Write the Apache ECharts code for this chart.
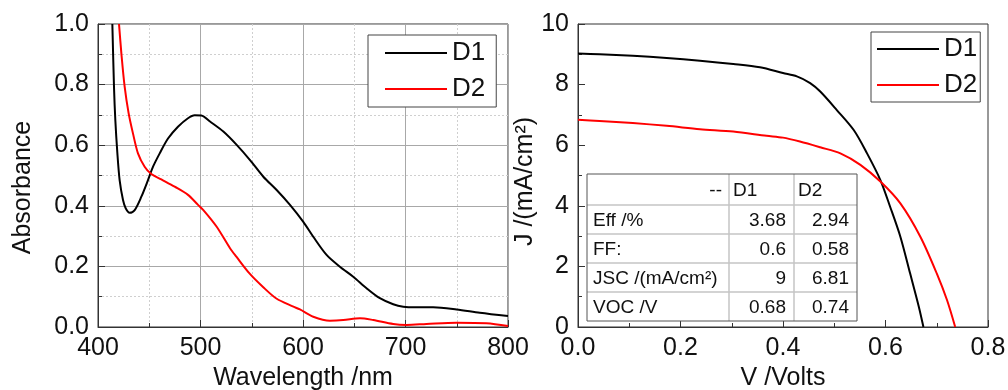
<!DOCTYPE html>
<html><head><meta charset="utf-8">
<script src="https://cdn.jsdelivr.net/npm/echarts@6/dist/echarts.min.js"></script>
<style>html,body{margin:0;padding:0;background:#fff}#c{width:1008px;height:390px}</style>
</head><body><div id="c"></div>
<script>
// ---- Absorbance spectra ----
const d1Wavelength = [414,415.6,416.9,418.9,421.1,424.4,427,430.9,435.8,442.3,448.8,453.7,460.2,468.3,478,487.8,494.3,500.8,509.3,522.3,535.3,548.3,561.3,574.3,587.3,600.3,610,623,636,649,662,675,688,697.8,710,727,749.8,772.5,800];
const d1Absorbance = [1.0,0.793,0.683,0.573,0.485,0.419,0.392,0.377,0.386,0.43,0.485,0.529,0.573,0.622,0.661,0.689,0.699,0.698,0.678,0.645,0.601,0.551,0.496,0.452,0.403,0.347,0.298,0.238,0.199,0.166,0.128,0.095,0.075,0.067,0.065,0.065,0.058,0.047,0.036];
const d2Wavelength = [420.5,422.8,426,429.9,434.1,439,445.5,452,461.8,474.8,487.8,497.6,502.8,515.8,528.8,535,548,561,574,590,597,610,626.3,639.3,655.6,668.6,688,701,720.5,749.8,779,800];
const d2Absorbance = [1.0,0.903,0.793,0.705,0.639,0.573,0.529,0.505,0.487,0.463,0.436,0.403,0.386,0.331,0.26,0.232,0.176,0.132,0.094,0.068,0.058,0.034,0.021,0.023,0.029,0.023,0.010,0.007,0.010,0.014,0.012,0.003];
// ---- J-V curves ----
const d1Voltage = [0,0.042,0.107,0.173,0.238,0.303,0.355,0.40,0.427,0.453,0.4727,0.505,0.538,0.564,0.59,0.609,0.629,0.648,0.665,0.674];
const d1Current = [9.03,9.0,8.95,8.88,8.79,8.68,8.57,8.38,8.27,8.05,7.77,7.16,6.5,5.73,4.85,3.97,2.98,1.77,0.67,0];
const d2Voltage = [0,0.042,0.107,0.173,0.238,0.303,0.368,0.40,0.433,0.4727,0.512,0.551,0.59,0.629,0.668,0.70,0.72,0.736];
const d2Current = [6.84,6.80,6.73,6.64,6.53,6.45,6.31,6.25,6.12,5.93,5.73,5.35,4.80,4.08,2.98,1.77,0.89,0];
// ---- axis ticks ----
const absXTicks = [400,500,600,700,800];
const absYTicks = [0,0.2,0.4,0.6,0.8,1.0];
const jvXTicks = [0,0.2,0.4,0.6,0.8];
const jvYTicks = [0,2,4,6,8,10];
// ---- inset table ----
const tableHeader = ['--','D1','D2'];
const tableRowLabels = ['Eff /%','FF:','JSC /(mA/cm²)','VOC /V'];
const tableD1 = ['3.68','0.6','9','0.68'];
const tableD2 = ['2.94','0.58','6.81','0.74'];
const seriesNames = ['D1','D2'];
const seriesColors = ['#000000','#ff0000'];

const zip = (a,b) => a.map((v,i)=>[v,b[i]]);
const FONT = "'Liberation Sans', Arial, sans-serif";
const axisCol = '#333';

function axisCfg(ticks, gridIndex, name, dec, gap, grid, namePad) {
  return {
    type:'value', gridIndex, min:ticks[0], max:ticks[ticks.length-1], interval:ticks[1]-ticks[0],
    name, nameLocation:'middle', nameGap:gap,
    nameTextStyle:{fontFamily:FONT,fontSize:25,color:'#111',padding:namePad||0},
    axisLine:{show:true,lineStyle:{color:axisCol,width:1}},
    axisTick:{show:true,inside:true,length:7,lineStyle:{color:axisCol}},
    minorTick:{show:true,splitNumber:2,length:4,lineStyle:{color:axisCol}},
    axisLabel:{fontFamily:FONT,fontSize:25,color:'#111',margin:9,formatter:v=>v.toFixed(dec)},
    splitLine:{show:grid,lineStyle:{color:'#a8a8a8',width:1}},
    minorSplitLine:{show:grid,lineStyle:{color:'#cfcfcf',type:[2,2],width:1}}
  };
}

// table graphic
const colX = [587,729,794,857];
const rowY = [174,205,234,263,292,321];
const tableEls = [];
tableEls.push({type:'rect',shape:{x:colX[0],y:rowY[0],width:colX[3]-colX[0],height:rowY[5]-rowY[0]},style:{fill:'#fff',stroke:'none'},z:10});
for (let i=1;i<rowY.length-1;i++) tableEls.push({type:'line',shape:{x1:colX[0],y1:rowY[i],x2:colX[3],y2:rowY[i]},style:{stroke:'#c4c4c4',lineWidth:1.5},z:11});
for (let j=1;j<colX.length-1;j++) tableEls.push({type:'line',shape:{x1:colX[j],y1:rowY[0],x2:colX[j],y2:rowY[5]},style:{stroke:'#c4c4c4',lineWidth:1.5},z:11});
tableEls.push({type:'rect',shape:{x:colX[0],y:rowY[0],width:colX[3]-colX[0],height:rowY[5]-rowY[0]},style:{fill:'none',stroke:'#555',lineWidth:1},z:12});
const tf = {fontFamily:FONT,fontSize:19,fill:'#111',verticalAlign:'middle'};
const mid = i => (rowY[i]+rowY[i+1])/2 + 1;
tableEls.push({type:'text',x:722,y:mid(0),style:Object.assign({text:tableHeader[0],align:'right'},tf),z:13});
tableEls.push({type:'text',x:733,y:mid(0),style:Object.assign({text:tableHeader[1],align:'left'},tf),z:13});
tableEls.push({type:'text',x:798,y:mid(0),style:Object.assign({text:tableHeader[2],align:'left'},tf),z:13});
tableRowLabels.forEach((lab,i)=>{
  tableEls.push({type:'text',x:593,y:mid(i+1),style:Object.assign({text:lab,align:'left'},tf),z:13});
  tableEls.push({type:'text',x:786,y:mid(i+1),style:Object.assign({text:tableD1[i],align:'right'},tf),z:13});
  tableEls.push({type:'text',x:849,y:mid(i+1),style:Object.assign({text:tableD2[i],align:'right'},tf),z:13});
});

function lineSeries(name, color, data, xi) {
  return {type:'line',name,xAxisIndex:xi,yAxisIndex:xi,data,symbol:'none',smooth:0.3,
    clip:true,lineStyle:{color,width:2},itemStyle:{color},z:5};
}

const legendBase = {orient:'vertical',icon:'rect',itemWidth:62,itemHeight:2,itemGap:10,borderColor:'#444',borderWidth:1,
  backgroundColor:'#fff',textStyle:{fontFamily:FONT,fontSize:26,color:'#111',lineHeight:24},data:seriesNames,selectedMode:false};

const chart = echarts.init(document.getElementById('c'));
chart.setOption({
  animation:false,
  backgroundColor:'#fff',
  grid:[
    {left:98,top:24,width:410,height:303,outerBoundsMode:'none',containLabel:false,show:true,borderColor:axisCol,borderWidth:1,backgroundColor:'transparent'},
    {left:578,top:24,width:410,height:303,outerBoundsMode:'none',containLabel:false,show:true,borderColor:axisCol,borderWidth:1,backgroundColor:'transparent'}
  ],
  xAxis:[axisCfg(absXTicks,0,'Wavelength /nm',0,36,true), axisCfg(jvXTicks,1,'V /Volts',1,36,false)],
  yAxis:[axisCfg(absYTicks,0,'Absorbance',1,62,true,[0,24,0,0]), axisCfg(jvYTicks,1,'J /(mA/cm²)',0,24,false,[0,12,0,0])],
  legend:[
    Object.assign({},legendBase,{left:368,top:35,padding:[5,11,5,17]}),
    Object.assign({},legendBase,{left:871,top:32,padding:[4,3,4,6]})
  ],
  series:[
    lineSeries(seriesNames[0],seriesColors[0],zip(d1Wavelength,d1Absorbance),0),
    lineSeries(seriesNames[1],seriesColors[1],zip(d2Wavelength,d2Absorbance),0),
    lineSeries(seriesNames[0],seriesColors[0],zip(d1Voltage,d1Current),1),
    lineSeries(seriesNames[1],seriesColors[1],zip(d2Voltage,d2Current),1)
  ],
  graphic:tableEls
});
</script></body></html>
